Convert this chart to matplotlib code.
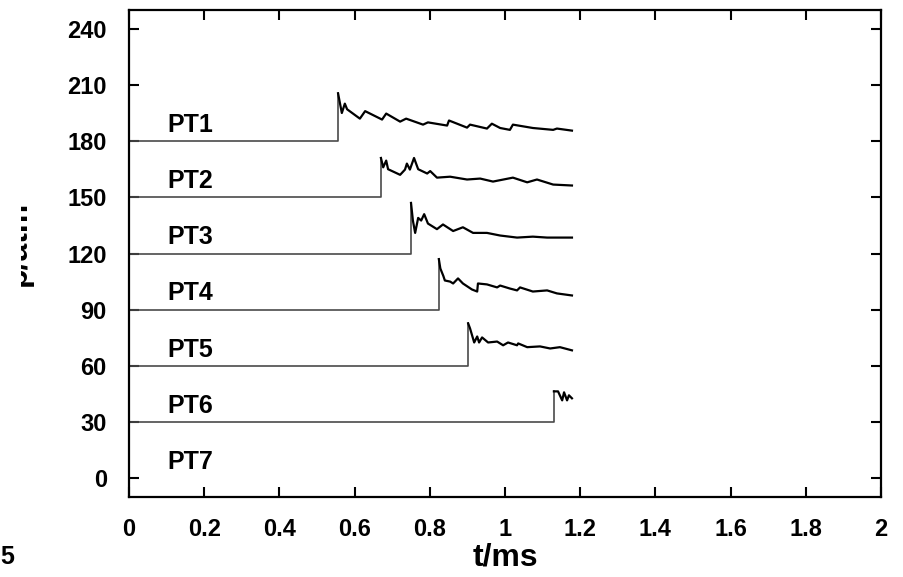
import matplotlib
matplotlib.use("Agg")
import matplotlib.pyplot as plt
from matplotlib.patches import Rectangle

plt.rcParams['font.family'] = ['Liberation Sans', 'DejaVu Sans']
plt.rcParams['font.weight'] = 'bold'

# sensor names, baseline pressure and time of shock arrival
names = ['PT1', 'PT2', 'PT3', 'PT4', 'PT5', 'PT6', 'PT7']
base = [180, 150, 120, 90, 60, 30, 0]
t_jump = [0.556, 0.670, 0.750, 0.824, 0.902, 1.130, None]

# traces after the jump
pt1_t = [0.556, 0.566, 0.574, 0.580, 0.614, 0.628, 0.673, 0.684, 0.721, 0.737, 0.782, 0.795,
         0.846, 0.851, 0.899, 0.907, 0.952, 0.965, 0.987, 1.013, 1.021, 1.074, 1.128, 1.138, 1.178]
pt1_p = [205.5, 195, 200, 197, 192, 196, 191.5, 194.7, 190.4, 192, 188.8, 190,
         188.3, 191, 187.2, 188.8, 186.7, 189.3, 187, 186, 188.8, 187, 186, 186.7, 185.6]

pt2_t = [0.670, 0.676, 0.684, 0.689, 0.721, 0.734, 0.739, 0.747, 0.758, 0.769, 0.793, 0.801,
         0.819, 0.854, 0.899, 0.934, 0.968, 1.021, 1.059, 1.085, 1.128, 1.178]
pt2_p = [171, 166, 169.6, 165, 162, 164.8, 168, 164.8, 171, 165, 162.7, 164,
         160.5, 161, 159.5, 160, 158.4, 160.5, 158, 159.5, 156.8, 156.3]

pt3_t = [0.750, 0.755, 0.761, 0.769, 0.777, 0.785, 0.795, 0.819, 0.835, 0.862, 0.888, 0.915,
         0.952, 0.987, 1.032, 1.074, 1.112, 1.178]
pt3_p = [147, 137.6, 131, 139, 137.6, 141, 136, 133, 135.5, 132, 134, 131,
         131, 129.6, 128.5, 129, 128.5, 128.5]

pt4_t = [0.824, 0.828, 0.832, 0.836, 0.840, 0.854, 0.862, 0.875, 0.888, 0.912, 0.926, 0.928,
         0.952, 0.979, 0.987, 1.013, 1.032, 1.040, 1.074, 1.112, 1.138, 1.178]
pt4_p = [117, 112, 110, 108, 105.6, 105, 104, 106.7, 104, 100.8, 99.7, 104,
         103.5, 101.9, 102.9, 101.3, 100.3, 101.9, 99.7, 100.3, 98.7, 97.6]

pt5_t = [0.902, 0.907, 0.918, 0.926, 0.931, 0.939, 0.955, 0.979, 0.995, 1.008, 1.032, 1.035,
         1.059, 1.093, 1.120, 1.146, 1.178]
pt5_p = [82.7, 80, 72.5, 75.7, 72.5, 75.2, 72.5, 73, 71, 72.5, 71, 72,
         70, 70.4, 69.3, 70, 68.3]

pt6_t = [1.130, 1.141, 1.152, 1.157, 1.165, 1.170, 1.178]
pt6_p = [46.4, 46.4, 41.6, 45.9, 41.6, 44.3, 42.7]

traces = [(pt1_t, pt1_p), (pt2_t, pt2_p), (pt3_t, pt3_p), (pt4_t, pt4_p),
          (pt5_t, pt5_p), (pt6_t, pt6_p), None]

xticks = [0, 0.2, 0.4, 0.6, 0.8, 1, 1.2, 1.4, 1.6, 1.8, 2]
xticklabels = ['0', '0.2', '0.4', '0.6', '0.8', '1', '1.2', '1.4', '1.6', '1.8', '2']
yticks = [0, 30, 60, 90, 120, 150, 180, 210, 240]

fig = plt.figure(figsize=(9.04, 5.77), dpi=100)
ax = fig.add_axes([0.1427, 0.1386, 0.8319, 0.8441])

for name, b, tj, tr in zip(names, base, t_jump, traces):
    if tr is not None:
        tt, pp = tr
        ax.plot([0, tj, tj], [b, b, pp[0]], color='#4a4a4a', lw=1.2)
        ax.plot(tt, pp, color='black', lw=1.6)
    ax.text(0.101, b + 5, name, fontsize=18, fontweight='bold', va='baseline', ha='left')

ax.set_xlim(0, 2)
ax.set_ylim(-10, 250)
ax.set_xticks(xticks)
ax.set_xticklabels(xticklabels)
ax.set_yticks(yticks)
ax.tick_params(direction='in', top=True, right=True, length=7, width=1.5,
               labelsize=17)
ax.tick_params(axis='x', pad=15)
ax.tick_params(axis='y', pad=16)
for s in ax.spines.values():
    s.set_linewidth(1.6)

ax.set_xlabel('t/ms', fontsize=23, fontweight='bold', labelpad=1)
ax.set_ylabel('p/atm', fontsize=23, fontweight='bold')
ax.yaxis.set_label_coords(-0.128, 0.52)

# the left edge of the original is cut off over the y label
fig.patches.append(Rectangle((0, 0), 21 / 904, 1, transform=fig.transFigure,
                             facecolor='white', edgecolor='none', zorder=10))
fig.text(0.0, 0.022, '5', fontsize=18, fontweight='bold', ha='left', va='baseline', zorder=11)

fig.savefig('out.png', dpi=100)
